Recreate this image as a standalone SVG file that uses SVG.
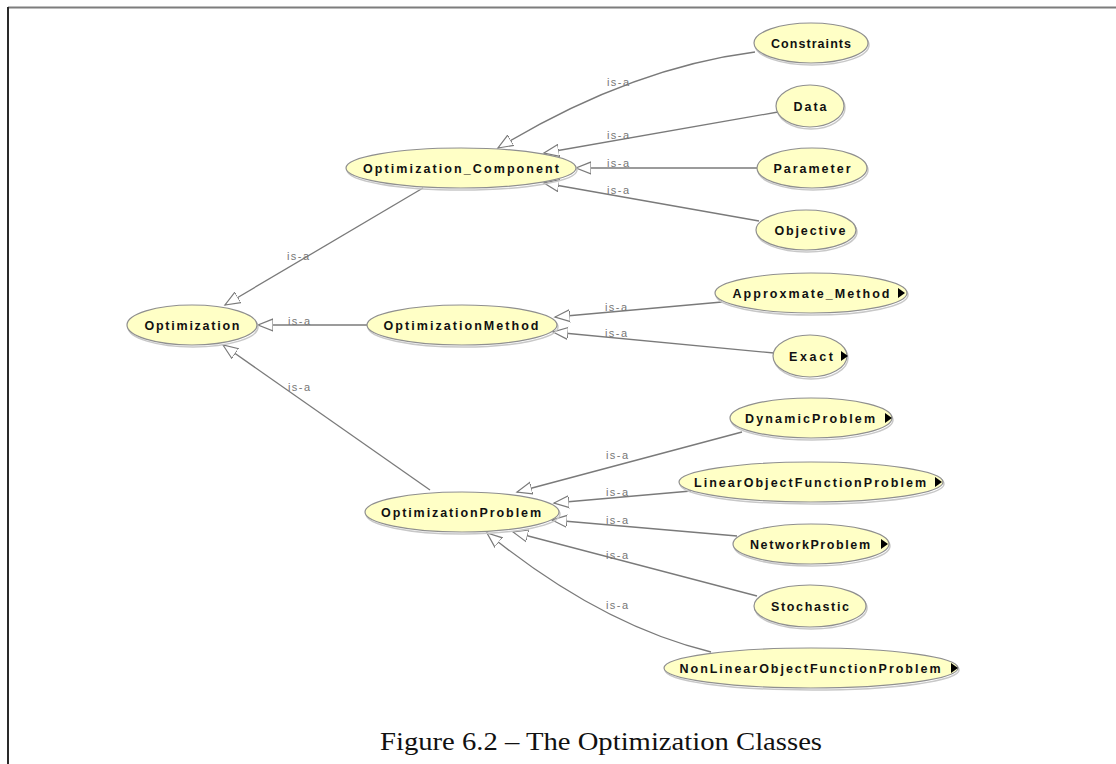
<svg xmlns="http://www.w3.org/2000/svg" width="1116" height="764" viewBox="0 0 1116 764">
<style>
.nd ellipse.b{fill:#ffffc6;stroke:#8f8f8f;stroke-width:1.2}
.nd ellipse.s{fill:none;stroke:#c8c8c8;stroke-width:1.5}
.nd text{font-family:"Liberation Sans",Arial,sans-serif;font-size:12.5px;font-weight:bold;fill:#111;text-anchor:middle}
.nd path{fill:#000}
.cn path,.cn line{stroke:#7a7a7a;stroke-width:1.3;fill:none;marker-end:url(#tri)}
.lb{font-family:"Liberation Sans",Arial,sans-serif;font-size:11px;fill:#777}
</style>
<defs>
<marker id="tri" markerUnits="userSpaceOnUse" markerWidth="18" markerHeight="14" refX="15" refY="7" orient="auto" viewBox="0 0 18 14">
<path d="M0,1 L15,7 L0,13 Z" fill="#fff" stroke="#7a7a7a" stroke-width="1.2"/>
</marker>
</defs>
<rect width="1116" height="764" fill="#fff"/>
<line x1="8" y1="7.5" x2="1116" y2="7.5" stroke="#7d7d7d" stroke-width="2"/>
<line x1="8" y1="7" x2="8" y2="764" stroke="#2a2a2a" stroke-width="2"/>

<g id="connectors" class="cn">
<path d="M755,52 Q630,68 498,148"/>
<line x1="778" y1="112" x2="544" y2="153"/>
<line x1="757" y1="168" x2="576" y2="168"/>
<line x1="759" y1="221" x2="544" y2="183"/>
<line x1="423" y1="188" x2="225" y2="305"/>
<line x1="367" y1="325" x2="258" y2="325"/>
<line x1="430" y1="490" x2="223" y2="345"/>
<line x1="722" y1="302" x2="555" y2="317"/>
<line x1="774" y1="353" x2="553" y2="332"/>
<line x1="742" y1="432" x2="517" y2="492"/>
<line x1="691" y1="491" x2="554" y2="503"/>
<line x1="737" y1="536" x2="552" y2="520"/>
<line x1="757" y1="596" x2="513" y2="532"/>
<path d="M711,652 Q600,625 487,533"/>
</g>
<g id="labels" class="lb">
<text x="607" y="86" textLength="22" lengthAdjust="spacing">is-a</text>
<text x="607" y="139" textLength="22" lengthAdjust="spacing">is-a</text>
<text x="607" y="167" textLength="22" lengthAdjust="spacing">is-a</text>
<text x="607" y="194" textLength="22" lengthAdjust="spacing">is-a</text>
<text x="287" y="260" textLength="22" lengthAdjust="spacing">is-a</text>
<text x="288" y="325" textLength="22" lengthAdjust="spacing">is-a</text>
<text x="288" y="391" textLength="22" lengthAdjust="spacing">is-a</text>
<text x="605" y="311" textLength="22" lengthAdjust="spacing">is-a</text>
<text x="605" y="337" textLength="22" lengthAdjust="spacing">is-a</text>
<text x="606" y="459" textLength="22" lengthAdjust="spacing">is-a</text>
<text x="606" y="496" textLength="22" lengthAdjust="spacing">is-a</text>
<text x="606" y="524" textLength="22" lengthAdjust="spacing">is-a</text>
<text x="606" y="559" textLength="22" lengthAdjust="spacing">is-a</text>
<text x="606" y="609" textLength="22" lengthAdjust="spacing">is-a</text>
</g>

<g id="n-optimization" class="nd"><ellipse class="s" cx="193" cy="327" rx="65" ry="20"/><ellipse class="b" cx="192" cy="325" rx="65" ry="20"/><text x="192" y="329.5" textLength="95" lengthAdjust="spacing">Optimization</text></g>
<g id="n-component" class="nd"><ellipse class="s" cx="462" cy="170" rx="115" ry="20"/><ellipse class="b" cx="461" cy="168" rx="115" ry="20"/><text x="461" y="172.5" textLength="196" lengthAdjust="spacing">Optimization_Component</text></g>
<g id="n-method" class="nd"><ellipse class="s" cx="463" cy="327" rx="95" ry="20"/><ellipse class="b" cx="462" cy="325" rx="95" ry="20"/><text x="461" y="329.5" textLength="155" lengthAdjust="spacing">OptimizationMethod</text></g>
<g id="n-problem" class="nd"><ellipse class="s" cx="463" cy="514" rx="97" ry="20"/><ellipse class="b" cx="462" cy="512" rx="97" ry="20"/><text x="461" y="516.5" textLength="160" lengthAdjust="spacing">OptimizationProblem</text></g>
<g id="n-constraints" class="nd"><ellipse class="s" cx="812" cy="45" rx="57" ry="20"/><ellipse class="b" cx="811" cy="43" rx="57" ry="20"/><text x="811" y="47.5" textLength="80" lengthAdjust="spacing">Constraints</text></g>
<g id="n-data" class="nd"><ellipse class="s" cx="811" cy="108" rx="34" ry="21"/><ellipse class="b" cx="810" cy="106" rx="34" ry="21"/><text x="810" y="110.5" textLength="33" lengthAdjust="spacing">Data</text></g>
<g id="n-parameter" class="nd"><ellipse class="s" cx="813" cy="170" rx="55" ry="20"/><ellipse class="b" cx="812" cy="168" rx="55" ry="20"/><text x="812" y="172.5" textLength="77" lengthAdjust="spacing">Parameter</text></g>
<g id="n-objective" class="nd"><ellipse class="s" cx="807" cy="232" rx="50" ry="20"/><ellipse class="b" cx="806" cy="230" rx="50" ry="20"/><text x="810" y="234.5" textLength="71" lengthAdjust="spacing">Objective</text></g>
<g id="n-approx" class="nd"><ellipse class="s" cx="812" cy="295" rx="96" ry="20"/><ellipse class="b" cx="811" cy="293" rx="96" ry="20"/><text x="811" y="297.5" textLength="157" lengthAdjust="spacing">Approxmate_Method</text><path d="M898,288 L905,293 L898,298 Z"/></g>
<g id="n-exact" class="nd"><ellipse class="s" cx="811" cy="358" rx="37" ry="21"/><ellipse class="b" cx="810" cy="356" rx="37" ry="21"/><text x="811" y="360.5" textLength="44" lengthAdjust="spacing">Exact</text><path d="M841,351 L848,356 L841,361 Z"/></g>
<g id="n-dynamic" class="nd"><ellipse class="s" cx="812" cy="420" rx="81" ry="20"/><ellipse class="b" cx="811" cy="418" rx="81" ry="20"/><text x="810" y="422.5" textLength="130" lengthAdjust="spacing">DynamicProblem</text><path d="M885,413 L892,418 L885,423 Z"/></g>
<g id="n-linear" class="nd"><ellipse class="s" cx="812" cy="484" rx="132" ry="20"/><ellipse class="b" cx="811" cy="482" rx="132" ry="20"/><text x="810" y="486.5" textLength="232" lengthAdjust="spacing">LinearObjectFunctionProblem</text><path d="M935,477 L942,482 L935,487 Z"/></g>
<g id="n-network" class="nd"><ellipse class="s" cx="812" cy="546" rx="78" ry="20"/><ellipse class="b" cx="811" cy="544" rx="78" ry="20"/><text x="810" y="548.5" textLength="120" lengthAdjust="spacing">NetworkProblem</text><path d="M881,539 L888,544 L881,549 Z"/></g>
<g id="n-stochastic" class="nd"><ellipse class="s" cx="811" cy="608" rx="56" ry="21"/><ellipse class="b" cx="810" cy="606" rx="56" ry="21"/><text x="810" y="610.5" textLength="78" lengthAdjust="spacing">Stochastic</text></g>
<g id="n-nonlinear" class="nd"><ellipse class="s" cx="812" cy="670" rx="147" ry="20"/><ellipse class="b" cx="811" cy="668" rx="147" ry="20"/><text x="810" y="672.5" textLength="261" lengthAdjust="spacing">NonLinearObjectFunctionProblem</text><path d="M951,663 L958,668 L951,673 Z"/></g>

<text x="380" y="750" font-family="'Liberation Serif','Times New Roman',serif" font-size="25" fill="#111" textLength="442" lengthAdjust="spacingAndGlyphs">Figure 6.2 – The Optimization Classes</text>
</svg>
